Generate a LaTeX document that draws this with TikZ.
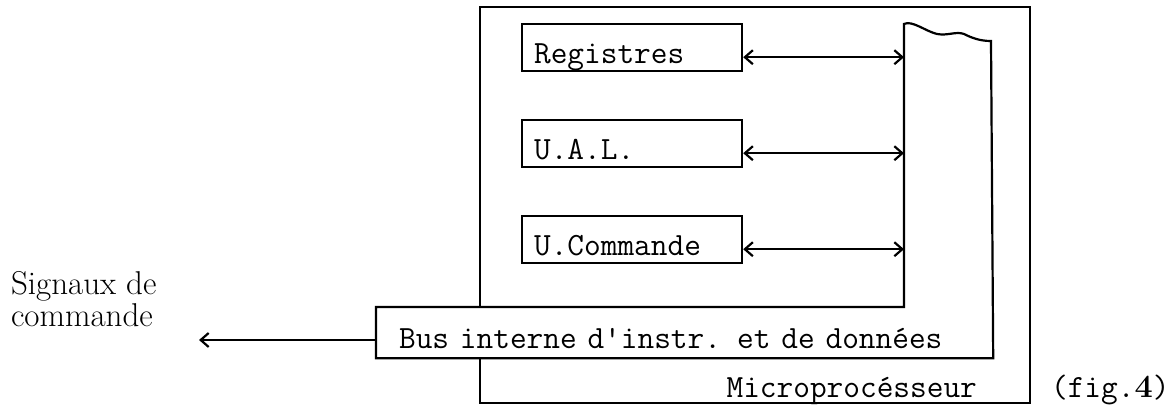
\documentclass[tikz,border=0pt]{standalone}
\usepackage{fontspec}
\usetikzlibrary{arrows.meta,calc}
\begin{document}
\begin{tikzpicture}[x=0.5pt,y=-0.5pt,
  line width=1.1pt,
  every node/.style={inner sep=0pt},
  lbl/.style={font=\fontsize{16.2pt}{20pt}\selectfont\ttfamily},
  unitbox/.style={draw, lbl, anchor=north west, inner xsep=6pt, inner ysep=0pt,
    text width=98pt, align=left, text height=19.5pt, text depth=4pt},
  barb/.tip={Straight Barb[length=4pt,width=7pt]},
  link/.style={barb-barb},
  sigout/.style={-barb},
  ]
\useasboundingbox (0,0) rectangle (1167,406);

% functional units
\node[unitbox] (reg) at (521,23)  {Registres};
\node[unitbox] (ual) at (521,119) {U.A.L.};
\node[unitbox] (cmd) at (521,215) {U.Commande};

% internal bus: vertical column and horizontal box
\node[anchor=north west, minimum width=43.5pt, minimum height=141.5pt] (col) at (904,24) {};
\node[lbl, anchor=north west, inner xsep=11pt, inner ysep=0pt, text width=285.5pt,
      align=left, text height=20pt, text depth=4.5pt] (bus) at (376,307)
      {\addfontfeatures{WordSpace=1.35}Bus interne d'instr. et de données};
\draw (bus.north west) -- (bus.north west -| col.west) -- (col.north west)
  .. controls (912,20) and (925,31) .. (937,34)
  .. controls (948,36) and (956,31) .. (964,34)
  .. controls (972,38) and (980,41) .. (991,41)
  -- (bus.south east) -- (bus.south west) -- cycle;

% microprocessor frame
\draw (bus.north west -| 480,0) -- (480,7) -- (1030,7) -- (1030,403)
  -- (480,403) -- (bus.south west -| 480,0);
\node[lbl, anchor=base east] (micro) at (978,397) {Microprocésseur};
\node[lbl, anchor=base west] (fig) at (1050,397) {(fig.{\rmfamily\bfseries 4})};

% links between the units and the bus
\foreach \b in {reg,ual,cmd}{
  \coordinate (\b a) at ($(\b.south east)+(0,-15)$);
  \draw[link] (\b a) -- (\b a -| col.west);
}

% control signals leaving the bus
\node[anchor=base west, align=left,
      font=\fontsize{16.5pt}{16.5pt}\selectfont\addfontfeatures{LetterSpace=4.5}] (sig) at (10,327)
  {Signaux de\\commande};
\coordinate (sigtip) at (199,340);
\draw[sigout] (bus.west |- sigtip) -- (sigtip);
\end{tikzpicture}
\end{document}
